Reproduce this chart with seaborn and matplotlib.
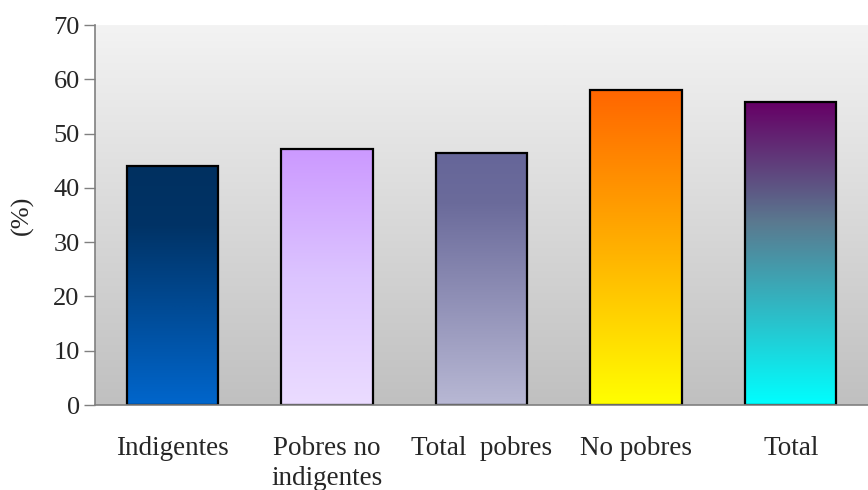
import numpy as np
import pandas as pd
import matplotlib
matplotlib.use("Agg")
import matplotlib.pyplot as plt
import seaborn as sns
from matplotlib.colors import LinearSegmentedColormap

# Data
categories = ["Indigentes", "Pobres no\nindigentes", "Total  pobres", "No pobres", "Total"]
values = [44.0, 47.1, 46.4, 58.0, 55.8]
yticks = [0, 10, 20, 30, 40, 50, 60, 70]

# gradient stops per bar (top -> bottom)
bar_gradients = [
    [(0, "#003060"), (0.25, "#003366"), (1, "#0066cc")],
    [(0, "#cc99ff"), (0.5, "#dcc4ff"), (1, "#ebdcff")],
    [(0, "#666699"), (0.2, "#6b6b9b"), (1, "#b8b8d4")],
    [(0, "#ff6600"), (0.5, "#ffb000"), (1, "#ffff00")],
    [(0, "#660066"), (0.4, "#5a7a90"), (1, "#00ffff")],
]

sns.set_style("white")
plt.rcParams["font.family"] = ["Liberation Serif", "DejaVu Serif"]

df = pd.DataFrame({"cat": categories, "val": values})

fig = plt.figure(figsize=(8.68, 4.9), dpi=100)
ax = fig.add_axes([95 / 868, 85 / 490, 773 / 868, 380 / 490])

sns.barplot(data=df, x="cat", y="val", ax=ax, width=0.59,
            facecolor="none", edgecolor="black", linewidth=1.6, zorder=3)

# background gradient of plot area
bg = LinearSegmentedColormap.from_list("bg", ["#f3f3f3", "#c0c0c0"])
ax.imshow(np.linspace(0, 1, 256).reshape(-1, 1), cmap=bg, aspect="auto",
          extent=[-0.5, 4.5, 0, 70], origin="upper", zorder=0)

# gradient fill for each bar
grad = np.linspace(0, 1, 256).reshape(-1, 1)
for patch, cols in zip(ax.patches, bar_gradients):
    x, w, h = patch.get_x(), patch.get_width(), patch.get_height()
    cm = LinearSegmentedColormap.from_list("g", cols)
    ax.imshow(grad, cmap=cm, aspect="auto", extent=[x, x + w, 0, h],
              origin="upper", zorder=2)

ax.set_xlim(-0.5, 4.5)
ax.set_ylim(0, 70)
ax.set_yticks(yticks)
ax.set_yticklabels([str(t) for t in yticks], fontsize=19)
ax.set_xticks(range(len(categories)))
ax.set_xticklabels(categories, fontsize=19.5, linespacing=1.3)
ax.set_xticks(np.arange(-0.5, 5, 1), minor=True)
ax.tick_params(axis="x", which="major", length=0, pad=22)
ax.tick_params(axis="x", which="minor", length=8, width=1, color="#808080", direction="out")
ax.tick_params(axis="y", which="major", length=8, width=1, color="#808080", direction="out", pad=3, left=True)
ax.set_xlabel("")
ax.set_ylabel("(%)", fontsize=19, labelpad=14)

for s in ["top", "right"]:
    ax.spines[s].set_visible(False)
for s in ["left", "bottom"]:
    ax.spines[s].set_color("#808080")
    ax.spines[s].set_linewidth(1.2)
    ax.spines[s].set_zorder(4)

fig.savefig("out.png", dpi=100)
